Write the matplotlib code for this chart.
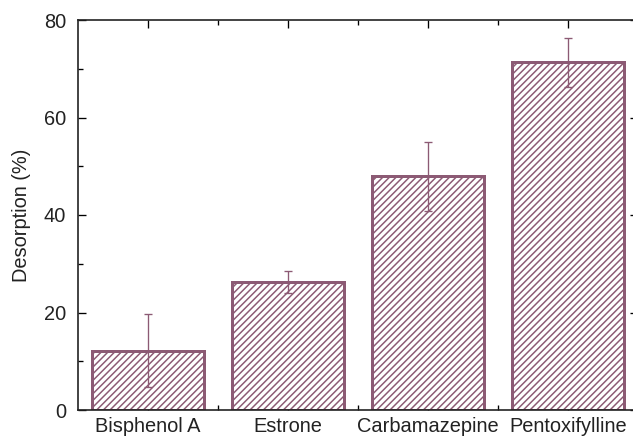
import matplotlib
matplotlib.use("Agg")
import matplotlib.pyplot as plt
from matplotlib.ticker import MultipleLocator, FixedLocator

# data
compounds = ["Bisphenol A", "Estrone", "Carbamazepine", "Pentoxifylline"]
desorption = [12.2, 26.3, 47.9, 71.3]
desorption_err = [7.5, 2.3, 7.0, 5.0]

col = '#8c5a74'
plt.rcParams['font.family'] = ['Liberation Sans', 'DejaVu Sans']
plt.rcParams['hatch.linewidth'] = 0.9
plt.rcParams['hatch.color'] = col

W, H, DPI = 633, 437, 120
fig = plt.figure(figsize=(W / DPI, H / DPI), dpi=DPI)
ax = fig.add_axes([78 / W, 27 / H, 560 / W, 390 / H])

x = list(range(len(compounds)))
ax.bar(x, desorption, width=0.8, color='white', edgecolor=col,
       linewidth=1.8, hatch='//////', zorder=2)
ax.errorbar(x, desorption, yerr=desorption_err, fmt='none', ecolor=col,
            elinewidth=0.8, capsize=2.5, capthick=0.8, zorder=3)

ax.set_xlim(-0.5, 3.5)
ax.set_ylim(0, 80)
ax.set_xticks(x)
ax.set_xticklabels(compounds)
ax.xaxis.set_minor_locator(FixedLocator([0.5, 1.5, 2.5]))
ax.yaxis.set_major_locator(MultipleLocator(20))
ax.yaxis.set_minor_locator(MultipleLocator(10))
ax.set_ylabel("Desorption (%)", fontsize=12, color='#222222', labelpad=8)

ax.tick_params(which='both', direction='in', top=True, right=True,
               labelsize=12, labelcolor='#222222', width=0.8)
ax.tick_params(which='major', length=5)
ax.tick_params(which='minor', length=3)
ax.tick_params(axis='y', which='both', pad=7)
ax.tick_params(axis='x', which='both', pad=4)
for s in ax.spines.values():
    s.set_linewidth(1.0)
    s.set_color('#222222')

fig.savefig("out.png", dpi=DPI)
